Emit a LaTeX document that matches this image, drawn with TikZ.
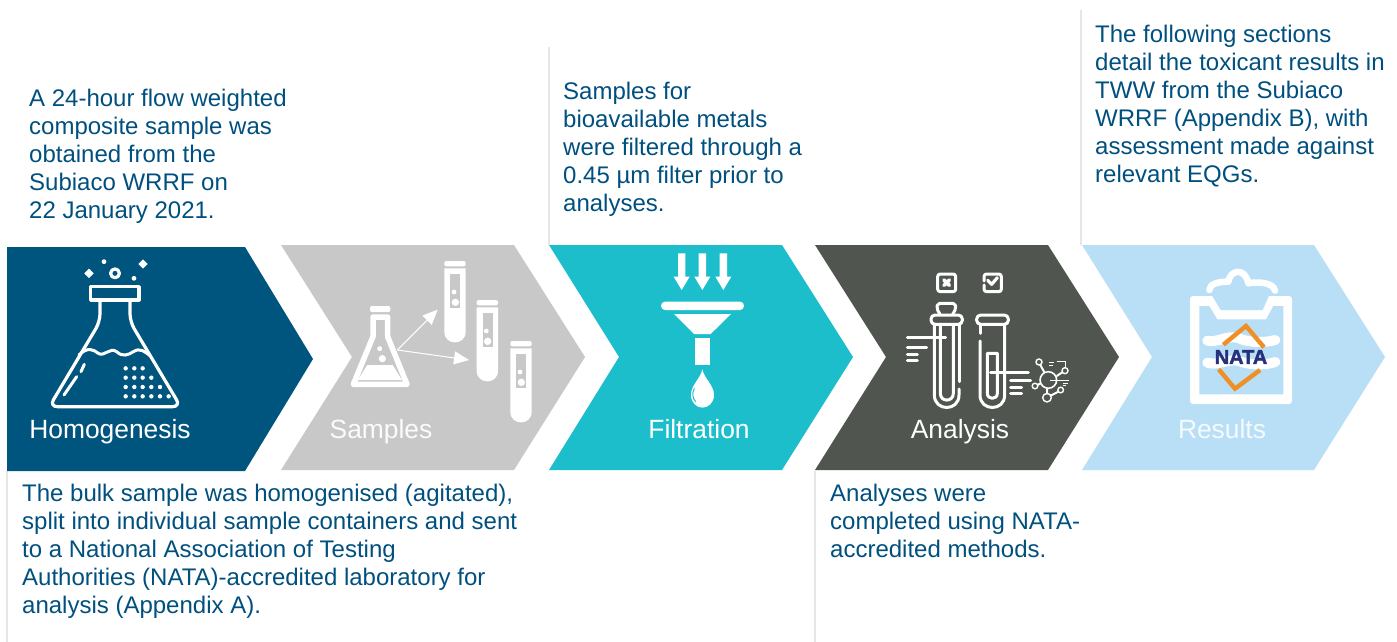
\documentclass[tikz,border=0pt]{standalone}
\usepackage{fontspec}
\setmainfont{Liberation Sans}
\newfontfamily\natafont[FakeBold=2]{Liberation Sans Bold}
\usetikzlibrary{arrows.meta}
\definecolor{navy}{HTML}{00557F}
\definecolor{stone}{HTML}{C8C8C8}
\definecolor{teal2}{HTML}{1CBECC}
\definecolor{slate}{HTML}{50554F}
\definecolor{sky}{HTML}{B9DFF7}
\definecolor{ink}{HTML}{00507F}
\definecolor{rulegrey}{HTML}{E8E5E2}
\definecolor{natablue}{HTML}{25317A}
\definecolor{nataorange}{HTML}{EE9026}
\tikzset{
  bodytext/.style={text=ink,align=left,anchor=north west,inner sep=0pt,font=\fontsize{24}{28}\selectfont},
  chevlabel/.style={text=white,anchor=base,inner sep=0pt,font=\fontsize{26.4}{28}\selectfont},
  zoomgrid/.style={x=.33333pt,y=-.33333pt},
  rulerline/.style={draw=rulegrey,line width=1.2pt},
  iconline/.style={draw=white,line width=#1,line cap=round,line join=round},
  iconline/.default=3pt,
}
\newcommand{\dotat}[2]{\fill[white] (#1,#2) circle[radius=2.2pt];}
\newcommand{\sampletube}[2]{%
\begin{scope}[shift={(#1,#2)}]
  \fill[white,rounded corners=2pt] (493,63) rectangle (557,79);
  \fill[white] (493,85) -- (557,85) -- (557,275) .. controls (557,318) and (493,318) .. (493,275) -- cycle;
  \fill[stone] (511,103) rectangle (541,205);
  \fill[white] (522,156) circle[radius=2.4pt];
  \fill[white] (526,187) circle[radius=3.7pt];
\end{scope}}
\begin{document}
\begin{tikzpicture}[x=1pt,y=-1pt]
\useasboundingbox (0,0) rectangle (1397,642);
\fill[white] (0,0) rectangle (1397,642);
% rules
\draw[rulerline] (7,471) -- (7,642);
\draw[rulerline] (549,47) -- (549,245);
\draw[rulerline] (815,471) -- (815,642);
\draw[rulerline] (1081,10) -- (1081,245);
% chevrons
\fill[navy] (7,247) -- (245,247) -- (313,359) -- (245,471) -- (7,471) -- cycle;
\fill[stone] (281,245) -- (514,245) -- (585,357) -- (514,470) -- (281,470) -- (352,357) -- cycle;
\fill[teal2] (549,245) -- (782,245) -- (853,357) -- (782,470) -- (549,470) -- (619,357) -- cycle;
\fill[slate] (815,245) -- (1048,245) -- (1119,357) -- (1048,470) -- (815,470) -- (886,357) -- cycle;
\fill[sky] (1082,245) -- (1314,245) -- (1385,357) -- (1314,470) -- (1082,470) -- (1152,357) -- cycle;
% flask icon
\begin{scope}[shift={(0,240)},zoomgrid]
  \draw[iconline=3.2pt] (272,140) rectangle (417,180);
  \draw[iconline=3.2pt,rounded corners=8pt] (300,180) -- (300,245) -- (148,500) -- (542,500) -- (390,245) -- (390,180);
  \draw[iconline=3pt] (237,345) .. controls (262,320) and (280,328) .. (295,340) .. controls (312,352) and (330,320) .. (350,335) .. controls (368,352) and (385,345) .. (400,335) .. controls (420,322) and (435,335) .. (450,347);
  \draw[iconline=3pt] (192,465) -- (230,410) (243,395) -- (253,373);
  \foreach \px in {377,403,428}{\dotat{\px}{385}}
  \foreach \px in {377,403,428,454}{\dotat{\px}{413}}
  \foreach \px in {377,403,428,454,480}{\dotat{\px}{441}}
  \foreach \px in {377,403,428,454,480,506}{\dotat{\px}{469}}
  \draw[iconline=3.2pt] (345,100) circle[radius=4.4pt];
  \fill[white] (267,86) -- (281,100) -- (267,114) -- (253,100) -- cycle;
  \fill[white] (429,58) -- (443,72) -- (429,86) -- (415,72) -- cycle;
  \fill[white] (312,65) circle[radius=2.4pt];
  \fill[white] (402,115) circle[radius=2.4pt];
\end{scope}
% samples icon
\begin{scope}[shift={(280,240)},zoomgrid]
  \fill[white,rounded corners=2pt] (270,198) rectangle (331,216);
  \draw[iconline=5.5pt,line join=round] (279,231) -- (323,231) -- (323,290) -- (381,433) -- (220,433) -- (279,290) -- cycle;
  \fill[white] (233,420) -- (366,420) -- (338,375) -- (262,375) -- cycle;
  \fill[white] (299,326) circle[radius=2.5pt];
  \fill[white] (307,356) circle[radius=3.6pt];
  \sampletube{0}{0}
  \sampletube{97}{117}
  \sampletube{198}{240}
  \coordinate (flaskout) at (352,330);
  \coordinate (tubea) at (473,209);
  \coordinate (tubeb) at (567,360);
  \draw[white,line width=1pt,-{Triangle[length=15pt,width=13pt]}] (flaskout) -- (tubea);
  \draw[white,line width=1pt,-{Triangle[length=15pt,width=13pt]}] (flaskout) -- (tubeb);
\end{scope}
% filter icon
\begin{scope}[shift={(550,240)},zoomgrid]
  \foreach \cx in {395,457,520}{
    \fill[white] (\cx-11,40) -- (\cx+11,40) -- (\cx+11,110) -- (\cx+24,110) -- (\cx,150) -- (\cx-24,110) -- (\cx-11,110) -- cycle;}
  \fill[white,rounded corners=4pt] (333,185) rectangle (582,210);
  \fill[white] (372,222) -- (543,222) -- (482,282) -- (432,282) -- cycle;
  \fill[white] (435,293) rectangle (480,375);
  \fill[white] (457,388) .. controls (452,415) and (423,435) .. (423,465) .. controls (423,488) and (440,503) .. (457,503) .. controls (475,503) and (492,488) .. (492,465) .. controls (492,435) and (462,415) .. (457,388) -- cycle;
  \draw[teal2,line width=1pt] (433,445) .. controls (425,462) and (428,475) .. (437,485);
\end{scope}
% analysis icon
\begin{scope}[shift={(900,265)},zoomgrid]
  \draw[iconline=3pt,rounded corners=2.5pt] (113,27) rectangle (167,80);
  \draw[iconline=3.6pt] (132,45) -- (148,61) (148,45) -- (132,61);
  \draw[iconline=3pt,rounded corners=2.5pt] (252,48) -- (252,27) -- (304,27) -- (304,80) -- (252,80) -- (252,60);
  \draw[iconline=3.2pt] (263,46) -- (275,58) -- (292,38);
  % tube one
  \draw[iconline,rounded corners=2pt] (120,148) -- (110,130) -- (113,115) -- (165,115) -- (168,130) -- (158,148);
  \draw[iconline,rounded corners=4pt] (93,150) rectangle (187,178);
  \draw[iconline] (103,178) -- (103,390) .. controls (103,440) and (177,440) .. (177,390) -- (177,372);
  \draw[iconline] (177,350) -- (177,178);
  \draw[iconline] (121,178) -- (121,385) .. controls (121,412) and (160,412) .. (160,385) -- (160,178);
  \draw[iconline] (22,217) -- (137,217) (22,247) -- (80,247) (22,268) -- (52,268) (22,285) -- (52,285);
  % tube two
  \draw[iconline,rounded corners=4pt] (230,150) rectangle (325,178);
  \draw[iconline] (240,178) -- (240,205);
  \draw[iconline] (240,228) -- (240,390) .. controls (240,440) and (314,440) .. (314,390) -- (314,178);
  \draw[iconline] (262,265) -- (262,385) .. controls (262,405) and (292,405) .. (292,385) -- (292,265) -- cycle;
  \draw[iconline] (272,322) -- (385,322) (332,345) -- (392,345) (332,368) -- (365,368) (332,385) -- (365,385);
  % molecule
  \draw[white,line width=1.6pt] (445,345) circle[radius=8.3pt];
  \draw[white,line width=1.4pt] (417,291) circle[radius=3pt] (495,317) circle[radius=3pt] (405,363) circle[radius=2.8pt] (441,398) circle[radius=4.3pt] (482,375) circle[radius=2.8pt];
  \draw[white,line width=2pt] (421,300) -- (433,322) (470,333) -- (487,322) (412,360) -- (422,355) (441,372) -- (441,388) (450,393) -- (475,380);
  \draw[white,line width=1pt] (448,293) -- (462,293) (448,301) -- (458,301) (470,290) -- (495,290) -- (495,308) (450,347) -- (507,347) (488,355) -- (505,355) (488,362) -- (498,362);
\end{scope}
% results icon
\begin{scope}[shift={(1180,260)},zoomgrid]
  \fill[white,rounded corners=3pt] (30,108) rectangle (336,432);
  \fill[sky] (58,138) -- (88,138) -- (112,178) -- (258,178) -- (280,138) -- (310,138) -- (310,403) -- (58,403) -- cycle;
  \fill[sky] (92,100) -- (122,150) -- (248,150) -- (270,100) -- cycle;
  \draw[iconline=6.5pt] (88,90) .. controls (88,70) and (120,65) .. (145,65) .. controls (150,30) and (195,20) .. (205,70) .. controls (225,65) and (280,65) .. (285,92);
  \draw[iconline=10pt] (82,242) .. controls (110,250) and (140,224) .. (175,234) .. controls (200,247) and (250,250) .. (286,240);
  \draw[iconline=10pt] (82,308) .. controls (110,318) and (140,297) .. (175,302) .. controls (200,314) and (250,318) .. (286,306);
  \draw[nataorange,line width=4.4pt,line join=miter] (130,254) -- (198,198) -- (252,262);
  \draw[nataorange,line width=4.4pt,line join=miter] (116,328) -- (165,386) -- (240,330);
  \node[text=natablue,inner sep=0pt,font=\natafont\fontsize{20}{22}\selectfont] (natalogo) at (183,291) {NATA};
\end{scope}
% chevron labels
\node[chevlabel] (homog) at (110,438) {Homogenesis};
\node[chevlabel,text=white!92!stone] (samples) at (381,438) {Samples};
\node[chevlabel] (filtration) at (699,438) {Filtration};
\node[chevlabel] (analysis) at (960,438) {Analysis};
\node[chevlabel,text=white!85!sky] (results) at (1222,438) {Results};
% body text
\node[bodytext] (t1) at (29,89) {A 24-hour flow weighted\\composite sample was\\obtained from the\\Subiaco WRRF on\\22 January 2021.};
\node[bodytext] (t2) at (563,82) {Samples for\\bioavailable metals\\were filtered through a\\0.45 µm filter prior to\\analyses.};
\node[bodytext] (t3) at (1095,25) {The following sections\\detail the toxicant results in\\TWW from the Subiaco\\WRRF (Appendix B), with\\assessment made against\\relevant EQGs.};
\node[bodytext] (t4) at (22,484) {The bulk sample was homogenised (agitated),\\split into individual sample containers and sent\\to a National Association of Testing\\Authorities (NATA)-accredited laboratory for\\analysis (Appendix A).};
\node[bodytext] (t5) at (830,484) {Analyses were\\completed using NATA-\\accredited methods.};
\end{tikzpicture}
\end{document}
